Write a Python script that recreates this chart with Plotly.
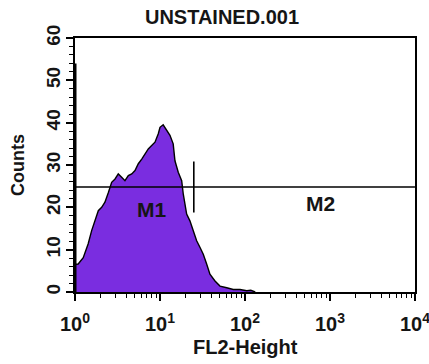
import math
import plotly.graph_objects as go

# ---- data ----
fl2_height = [1.0, 1.09, 1.25, 1.43, 1.57, 1.72, 1.88, 2.06, 2.25, 2.47, 2.70, 2.96, 3.23,
              3.54, 3.87, 4.24, 4.65, 5.08, 5.56, 6.10, 6.67, 7.28, 7.98, 8.73, 9.55,
              10.0, 10.9, 12.0, 13.1, 14.3, 15.0, 16.4, 18.0, 18.8, 19.7, 20.6, 22.5,
              24.7, 27.0, 29.6, 32.3, 35.4, 38.7, 44.4, 50.8, 61.0, 72.8, 87.3, 105,
              117, 132]
counts = [6.5, 6.6, 8.1, 11.4, 14.5, 16.8, 19.2, 20.0, 21.2, 23.5, 25.9, 26.7, 27.9,
          27.1, 26.3, 27.5, 27.9, 28.7, 30.3, 31.4, 32.6, 33.8, 34.6, 35.4, 37.4,
          38.9, 39.5, 38.2, 37.0, 35.0, 31.0, 28.3, 26.3, 23.1, 20.0, 18.4, 16.8,
          14.5, 12.1, 10.5, 8.9, 6.6, 4.2, 2.6, 1.4, 1.0, 0.6, 0.6, 0.3,
          0.4, 0.0]
pileup_channel = 1.0
pileup_count = 54

gate_level = 24.8
m1_range = [1.0, 25.0]
m2_range = [25.0, 10000.0]
gate_labels = ["M1", "M2"]
gate_label_pos = [8.0, 780.0]
gate_label_count = [19.6, 20.8]

x_tickvals = [1, 10, 100, 1000, 10000]
x_ticktext = ["10<sup>0</sup>", "10<sup>1</sup>", "10<sup>2</sup>", "10<sup>3</sup>", "10<sup>4</sup>"]
y_tickvals = [0, 10, 20, 30, 40, 50, 60]

title_text = "UNSTAINED.001"
x_title = "FL2-Height"
y_title = "Counts"

FONT = "Liberation Sans, Arial, sans-serif"
PURPLE = "#7a2de0"
INK = "#151515"

fig = go.Figure()

# histogram
fig.add_trace(go.Scatter(
    x=fl2_height, y=counts, mode="lines", fill="tozeroy",
    fillcolor=PURPLE, line=dict(color="black", width=1.4), hoverinfo="skip"))

# off-scale pile-up in first channel (drawn along the axis)
fig.add_trace(go.Scatter(
    x=[pileup_channel, pileup_channel], y=[0, pileup_count], mode="lines",
    line=dict(color="black", width=3), hoverinfo="skip"))

# markers M1 / M2
fig.add_trace(go.Scatter(
    x=m1_range, y=[gate_level, gate_level], mode="lines",
    line=dict(color="black", width=1.6), hoverinfo="skip"))
fig.add_trace(go.Scatter(
    x=m2_range, y=[gate_level, gate_level], mode="lines",
    line=dict(color="black", width=1.6), hoverinfo="skip"))
fig.add_trace(go.Scatter(
    x=[m1_range[1], m1_range[1]], y=[gate_level - 6, gate_level + 6], mode="lines",
    line=dict(color="black", width=1.6), hoverinfo="skip"))

for lab, xv, yv in zip(gate_labels, gate_label_pos, gate_label_count):
    fig.add_annotation(x=math.log10(xv), y=yv, xref="x", yref="y", text=lab, showarrow=False,
                       font=dict(family=FONT, size=21, color=INK, weight="bold"),
                       xanchor="center", yanchor="middle")

fig.update_layout(
    width=429, height=364,
    margin=dict(l=75, r=14, t=38, b=72, autoexpand=False),
    paper_bgcolor="white", plot_bgcolor="white",
    showlegend=False,
    font=dict(family=FONT, color=INK),
    title=dict(text=title_text, x=222 / 429, xref="container", xanchor="center",
               y=1 - 17 / 364, yref="container", yanchor="middle",
               font=dict(family=FONT, size=20, color=INK, weight="bold")),
)

fig.update_xaxes(
    type="log", range=[0, 4.0005], showgrid=False, zeroline=False, automargin=False,
    showline=True, linecolor="black", linewidth=2, mirror=True,
    ticks="outside", ticklen=7, tickwidth=1.5, tickcolor="black",
    tickvals=x_tickvals, ticktext=x_ticktext,
    tickfont=dict(family=FONT, size=20, color=INK, weight="bold"),
    ticklabelstandoff=6, ticklabeloverflow="allow",
    minor=dict(ticks="outside", ticklen=4, tickwidth=1.2, tickcolor="black",
               tickvals=[m * 10 ** d for d in range(4) for m in range(2, 10)]),
)
fig.update_yaxes(
    range=[0, 60], showgrid=False, zeroline=False, automargin=False,
    showline=True, linecolor="black", linewidth=2, mirror=True,
    ticks="outside", ticklen=7, tickwidth=1.5, tickcolor="black",
    tickvals=y_tickvals, tickangle=-90,
    tickfont=dict(family=FONT, size=19, color=INK, weight="bold"),
    ticklabelstandoff=-2,
    minor=dict(ticks="outside", ticklen=4, tickwidth=1.2, tickcolor="black", dtick=2),
)

fig.add_annotation(x=0.5, y=0.0, xref="paper", yref="paper", text=x_title,
                   showarrow=False, xanchor="center", yanchor="middle",
                   yshift=-55, font=dict(family=FONT, size=20, color=INK, weight="bold"))
fig.add_annotation(x=0, y=0.5, xref="paper", yref="paper", text=y_title,
                   showarrow=False, xanchor="center", yanchor="middle",
                   xshift=-57, textangle=-90,
                   font=dict(family=FONT, size=18, color=INK, weight="bold"))

fig.write_html("out.html")
